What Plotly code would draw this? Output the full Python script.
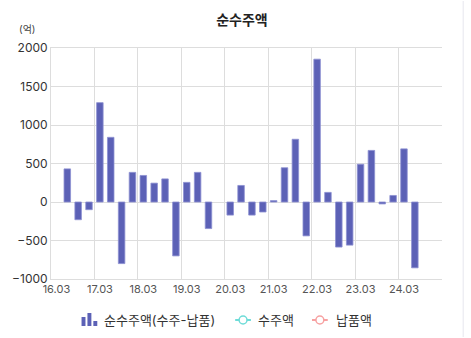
import plotly.graph_objects as go

# Quarterly periods (YY.MM), 16.03 through 24.12
quarters = [f"{y:02d}.{m:02d}" for y in range(16, 25) for m in (3, 6, 9, 12)]

# Net order amount (orders - deliveries), unit: 억
net_orders = [
    None, 430, -230, -100,
    1290, 840, -800, 385,
    345, 245, 300, -700,
    255, 385, -345, None,
    -170, 215, -170, -130,
    18, 445, 815, -440,
    1855, 125, -585, -560,
    490, 670, -25, 85,
    690, -855, None, None,
]

tick_labels = ["16.03", "17.03", "18.03", "19.03", "20.03", "21.03", "22.03", "23.03", "24.03"]
legend_names = ["순수주액(수주-납품)", "수주액", "납품액"]

idx = list(range(len(quarters)))
tick_pos = [quarters.index(t) for t in tick_labels]

W, H = 471, 338
ML, MR, MT, MB = 45, 29, 48, 59
PW, PH = W - ML - MR, H - MT - MB

FONT = "Inter, Noto Sans CJK KR, sans-serif"
GRID = "#dddddd"
BAR = "#5c61b6"
CYAN = "#6fdcd8"
PINK = "#f7a1a1"


def px(xp):
    """pixel x -> paper x"""
    return (xp - ML) / PW


def py(yp):
    """pixel y -> paper y"""
    return (H - MB - yp) / PH


fig = go.Figure()
fig.add_trace(go.Bar(
    x=idx, y=net_orders, name=legend_names[0],
    marker=dict(color=BAR, line=dict(color="#8d91d2", width=0.8)),
    width=0.6, showlegend=False,
))

shapes = []
annotations = []

# Legend: bar-chart icon + label
for x0, top in [(76, 317), (82, 313), (88, 321)]:
    shapes.append(dict(type="rect", xref="paper", yref="paper",
                       x0=px(x0), x1=px(x0 + 4), y0=py(326), y1=py(top),
                       fillcolor=BAR, line=dict(width=0)))
annotations.append(dict(text=legend_names[0], xref="paper", yref="paper",
                        x=px(97), y=py(320), xanchor="left", yanchor="middle",
                        showarrow=False, font=dict(size=13, color="#333333")))

# Legend: line + open-circle icons
for (lx, tx), name, col in zip([(232, 253), (310, 332)], legend_names[1:], [CYAN, PINK]):
    shapes.append(dict(type="line", xref="paper", yref="paper",
                       x0=px(lx), x1=px(lx + 16), y0=py(320), y1=py(320),
                       line=dict(color=col, width=2)))
    shapes.append(dict(type="circle", xref="paper", yref="paper",
                       x0=px(lx + 4), x1=px(lx + 12), y0=py(324), y1=py(316),
                       fillcolor="white", line=dict(color=col, width=1.5)))
    annotations.append(dict(text=name, xref="paper", yref="paper",
                            x=px(tx), y=py(320), xanchor="left", yanchor="middle",
                            showarrow=False, font=dict(size=13, color="#333333")))

# Unit label
annotations.append(dict(text="(억)", xref="paper", yref="paper", x=px(21.5), y=py(29),
                        xanchor="center", yanchor="middle", showarrow=False,
                        font=dict(size=10, color="#444444")))

# Card edge on the right
shapes.append(dict(type="line", xref="paper", yref="paper",
                   x0=px(463.5), x1=px(463.5), y0=py(1), y1=py(337),
                   line=dict(color="#e6e6ee", width=1)))

fig.update_layout(
    width=W, height=H,
    margin=dict(l=ML, r=MR, t=MT, b=MB),
    paper_bgcolor="white", plot_bgcolor="white",
    font=dict(family=FONT, color="#333333"),
    title=dict(text="<b>순수주액</b>", x=242 / W, xanchor="center",
               y=1 - 20 / H, yanchor="middle",
               font=dict(size=14, color="#222222")),
    showlegend=False,
    bargap=0.4,
    annotations=annotations,
    shapes=shapes,
)

fig.update_xaxes(
    range=[-0.5, len(quarters) - 0.5],
    tickmode="array", tickvals=tick_pos, ticktext=tick_labels,
    tickfont=dict(size=11, color="#555555"),
    showgrid=False, zeroline=False, showline=True, linecolor=GRID, linewidth=1,
    ticks="",
    minor=dict(tick0=-0.5, dtick=4, showgrid=True, gridcolor=GRID, gridwidth=1, ticks=""),
    mirror=True,
)
fig.update_yaxes(
    range=[-1000, 2000], dtick=500, tickmode="linear",
    tickfont=dict(size=12, color="#333333"),
    showgrid=True, gridcolor=GRID, gridwidth=1,
    zeroline=False, showline=True, linecolor=GRID, linewidth=1, ticks="",
)

fig.write_html("out.html")
